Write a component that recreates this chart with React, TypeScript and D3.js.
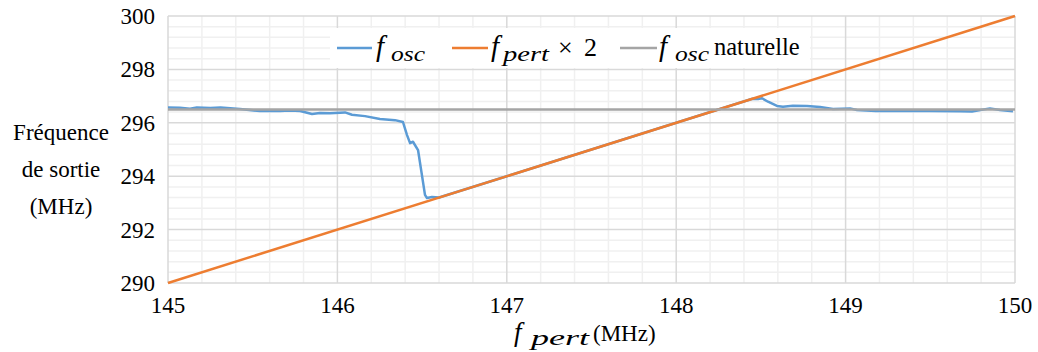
import React, { useEffect, useRef } from "react";
import * as d3 from "d3";

const W = 1038;
const H = 352;

// f_osc measured (MHz in, MHz out)
const oscFreq = [
  145.0, 145.07, 145.13, 145.17, 145.25, 145.31, 145.425, 145.543, 145.661, 145.72, 145.78, 145.85, 145.897,
  145.956, 146.045, 146.086, 146.163, 146.251, 146.34, 146.387, 146.411, 146.429, 146.446, 146.476, 146.499,
  146.517, 146.529, 146.558, 146.6, 147.0, 147.5, 148.0, 148.45, 148.483, 148.507, 148.542, 148.595, 148.63,
  148.689, 148.772, 148.849, 148.926, 149.026, 149.067, 149.179, 149.321, 149.498, 149.675, 149.746, 149.852,
  149.911, 149.988,
];
const oscOut = [
  296.57, 296.56, 296.53, 296.57, 296.55, 296.57, 296.52, 296.44, 296.44, 296.46, 296.44, 296.33, 296.37,
  296.36, 296.39, 296.3, 296.25, 296.14, 296.1, 296.03, 295.54, 295.24, 295.29, 294.98, 294.04,
  293.3, 293.18, 293.22, 293.2, 294.0, 295.0, 296.0, 296.9, 296.89, 296.92, 296.79, 296.63, 296.6,
  296.64, 296.63, 296.59, 296.52, 296.54, 296.48, 296.44, 296.44, 296.44, 296.43, 296.42, 296.54,
  296.48, 296.43,
];
// f_pert x 2
const pertFreq = [145, 150];
const pertDouble = [290, 300];
// natural f_osc
const natFreq = [145, 150];
const natOut = [296.5, 296.5];

const xTicks = [145, 146, 147, 148, 149, 150];
const yTicks = [290, 292, 294, 296, 298, 300];
const yTitle = ["Fréquence", "de sortie", "(MHz)"];

const BLUE = "#5b9bd5";
const ORANGE = "#ed7d31";
const GRAY = "#a5a5a5";
const FONT = '"Liberation Serif"';

export default function App() {
  const ref = useRef<SVGSVGElement | null>(null);

  useEffect(() => {
    const svg = d3.select(ref.current);
    svg.selectAll("*").remove();

    const x = d3.scaleLinear().domain([145, 150]).range([168, 1015]);
    const y = d3.scaleLinear().domain([290, 300]).range([283, 16]);
    const line = d3
      .line<[number, number]>()
      .x((d) => x(d[0]))
      .y((d) => y(d[1]));

    const minorX = d3.range(145, 150.0001, 0.2).filter((v) => Math.abs(v - Math.round(v)) > 1e-6);
    const minorY = d3.range(290, 300.0001, 0.4).filter((v) => Math.abs(v / 2 - Math.round(v / 2)) > 1e-6);

    svg.append("rect").attr("width", W).attr("height", H).attr("fill", "#fff");

    const grid = svg.append("g");
    minorX.forEach((v) =>
      grid.append("line").attr("x1", x(v)).attr("x2", x(v)).attr("y1", y(290)).attr("y2", y(300))
        .attr("stroke", "#f0f0f0").attr("stroke-width", 1.5)
    );
    minorY.forEach((v) =>
      grid.append("line").attr("x1", x(145)).attr("x2", x(150)).attr("y1", y(v)).attr("y2", y(v))
        .attr("stroke", "#f0f0f0").attr("stroke-width", 1.5)
    );
    xTicks.forEach((v) =>
      grid.append("line").attr("x1", x(v)).attr("x2", x(v)).attr("y1", y(290)).attr("y2", y(300))
        .attr("stroke", "#d9d9d9").attr("stroke-width", 1.5)
    );
    yTicks.forEach((v) =>
      grid.append("line").attr("x1", x(145)).attr("x2", x(150)).attr("y1", y(v)).attr("y2", y(v))
        .attr("stroke", "#d9d9d9").attr("stroke-width", 1.5)
    );

    const osc = oscFreq.map((f, i) => [f, oscOut[i]] as [number, number]);
    const pert = pertFreq.map((f, i) => [f, pertDouble[i]] as [number, number]);
    const nat = natFreq.map((f, i) => [f, natOut[i]] as [number, number]);

    svg.append("path").attr("d", line(osc)).attr("fill", "none").attr("stroke", BLUE)
      .attr("stroke-width", 2.5).attr("stroke-linejoin", "round");
    svg.append("path").attr("d", line(pert)).attr("fill", "none").attr("stroke", ORANGE).attr("stroke-width", 2.5);
    svg.append("path").attr("d", line(nat)).attr("fill", "none").attr("stroke", GRAY).attr("stroke-width", 2.5);

    const txt = (
      s: string,
      px: number,
      py: number,
      size: number,
      opts: { italic?: boolean; anchor?: string; len?: number } = {}
    ) => {
      const t = svg
        .append("text")
        .attr("x", px)
        .attr("y", py)
        .attr("font-size", size)
        .attr("font-family", "Liberation Serif")
        .style("font-family", FONT)
        .attr("fill", "#000")
        .attr("text-anchor", opts.anchor || "start")
        .text(s);
      if (opts.italic) t.style("font-style", "italic");
      if (opts.len) t.attr("textLength", opts.len).attr("lengthAdjust", "spacingAndGlyphs");
      return t;
    };

    yTicks.forEach((v) => txt(String(v), 155, y(v) + 8, 23, { anchor: "end" }));
    xTicks.forEach((v) => txt(String(v), x(v), 313, 23, { anchor: "middle" }));
    yTitle.forEach((s, i) => txt(s, 61, 140 + i * 37, 23, { anchor: "middle" }));

    // x title
    txt("f", 514, 341, 27, { italic: true });
    txt("pert", 531, 345, 21, { italic: true, len: 58 });
    txt("(MHz)", 593, 341, 23);

    // legend
    svg.append("rect").attr("x", 330).attr("y", 28).attr("width", 480).attr("height", 40).attr("fill", "#fff");
    const sw = (x1: number, x2: number, c: string) =>
      svg.append("line").attr("x1", x1).attr("x2", x2).attr("y1", 48).attr("y2", 48)
        .attr("stroke", c).attr("stroke-width", 2.5);

    sw(337, 372, BLUE);
    txt("f", 376, 56, 29, { italic: true });
    txt("osc", 391, 61, 21, { italic: true, len: 34 });

    sw(452, 488, ORANGE);
    txt("f", 491, 56, 29, { italic: true });
    txt("pert", 503, 61, 21, { italic: true, len: 46 });
    txt("×", 558, 56, 26);
    txt("2", 584, 56, 26);

    sw(620, 657, GRAY);
    txt("f", 659, 56, 29, { italic: true });
    txt("osc", 675, 61, 21, { italic: true, len: 34 });
    txt("naturelle", 714, 55, 24.5);
  }, []);

  return <svg ref={ref} width={W} height={H} style={{ position: "absolute", left: 0, top: 0 }} />;
}
